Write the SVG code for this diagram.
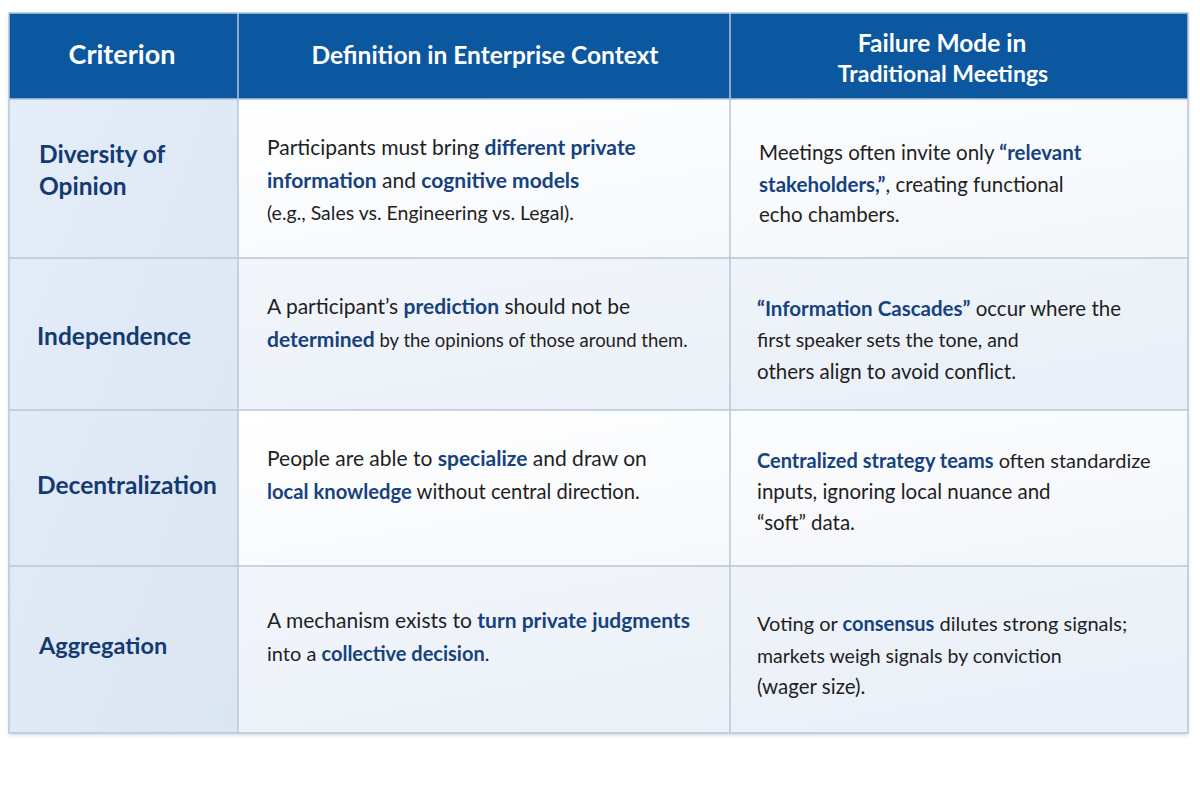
<svg xmlns="http://www.w3.org/2000/svg" width="1200" height="800" viewBox="0 0 1200 800">
<defs>
<linearGradient id="cellg" x1="0" y1="0" x2="1" y2="1">
<stop offset="0" stop-color="#f2f6fb"/>
<stop offset="1" stop-color="#e9eff7"/>
</linearGradient>
<linearGradient id="colg" x1="0" y1="0" x2="1" y2="1">
<stop offset="0" stop-color="#e4edf8"/>
<stop offset="1" stop-color="#dbe6f3"/>
</linearGradient>
<linearGradient id="whiteg" x1="0" y1="0" x2="1" y2="1">
<stop offset="0" stop-color="#ffffff"/>
<stop offset="1" stop-color="#f3f6fa"/>
</linearGradient>
<filter id="sh" x="-5%" y="-5%" width="110%" height="110%">
<feDropShadow dx="0" dy="2" stdDeviation="2" flood-color="#8a9bb0" flood-opacity="0.4"/>
</filter>
</defs>
<style>
.hd{font-family:Lato,"Open Sans",sans-serif;font-weight:bold;font-size:24.5px;fill:#ffffff;text-anchor:middle}
.cr{font-family:Lato,"Open Sans",sans-serif;font-weight:bold;font-size:24.5px;fill:#143a72}
.tx{font-family:Lato,"Open Sans",sans-serif;font-size:21px;fill:#1f1f1f}
.t3{font-size:20.5px}
.sm{font-size:18.5px}
.b{font-weight:bold;fill:#16427e}
.grid{stroke:#b7c7d9;stroke-width:1.5;fill:none}
</style>
<rect width="1200" height="800" fill="#ffffff"/>
<g id="table">
<rect x="9" y="13" width="1179" height="720" fill="#ffffff" filter="url(#sh)"/>
<rect x="9" y="13" width="1179" height="86" fill="#0b57a0"/>
<rect x="9" y="99" width="229" height="634" fill="url(#colg)"/>
<rect x="238" y="99" width="950" height="159" fill="url(#whiteg)"/>
<rect x="238" y="258" width="950" height="152" fill="url(#cellg)"/>
<rect x="238" y="410" width="950" height="156" fill="url(#whiteg)"/>
<rect x="238" y="566" width="950" height="167" fill="url(#cellg)"/>
</g>
<g id="connectors">
<rect class="grid" x="9" y="13" width="1179" height="720"/>
<line class="grid" x1="238" y1="13" x2="238" y2="733"/>
<line class="grid" x1="730" y1="13" x2="730" y2="733"/>
<line class="grid" x1="9" y1="99" x2="1188" y2="99"/>
<line class="grid" x1="9" y1="258" x2="1188" y2="258"/>
<line class="grid" x1="9" y1="410" x2="1188" y2="410"/>
<line class="grid" x1="9" y1="566" x2="1188" y2="566"/>
</g>
<g id="header">
<text class="hd" x="122" y="64" style="font-size:27px">Criterion</text>
<text class="hd" x="485" y="64">Definition in Enterprise Context</text>
<text class="hd" x="942" y="52">Failure Mode in</text>
<text class="hd" x="943" y="82" style="font-size:23px">Traditional Meetings</text>
</g>
<g id="row-diversity">
<text class="cr" x="39" y="163">Diversity of</text>
<text class="cr" x="39" y="195">Opinion</text>
<text class="tx" x="267" y="155">Participants must bring <tspan class="b">different private</tspan></text>
<text class="tx" x="267" y="188"><tspan class="b">information</tspan> and <tspan class="b">cognitive models</tspan></text>
<text class="tx" x="267" y="220" style="font-size:19.5px">(e.g., Sales vs. Engineering vs. Legal).</text>
<text class="tx t3" x="759" y="160">Meetings often invite only <tspan class="b">“relevant</tspan></text>
<text class="tx t3" x="759" y="192"><tspan class="b">stakeholders,”</tspan>, creating functional</text>
<text class="tx t3" x="759" y="222">echo chambers.</text>
</g>
<g id="row-independence">
<text class="cr" x="37" y="345">Independence</text>
<text class="tx" x="267" y="314">A participant’s <tspan class="b">prediction</tspan> should not be</text>
<text class="tx" x="267" y="347"><tspan class="b">determined</tspan><tspan class="sm"> by the opinions of those around them.</tspan></text>
<text class="tx t3" x="757" y="316"><tspan class="b">“Information Cascades”</tspan> occur where the</text>
<text class="tx t3" x="757" y="347" style="font-size:19.5px">first speaker sets the tone, and</text>
<text class="tx t3" x="757" y="379">others align to avoid conflict.</text>
</g>
<g id="row-decentralization">
<text class="cr" x="37" y="494">Decentralization</text>
<text class="tx" x="267" y="466">People are able to <tspan class="b">specialize</tspan> and draw on</text>
<text class="tx" x="267" y="499" style="font-size:20.2px"><tspan class="b">local knowledge</tspan> without central direction.</text>
<text class="tx t3" x="757" y="468" style="font-size:20px"><tspan class="b">Centralized strategy teams</tspan> often standardize</text>
<text class="tx t3" x="757" y="499">inputs, ignoring local nuance and</text>
<text class="tx t3" x="757" y="530">“soft” data.</text>
</g>
<g id="row-aggregation">
<text class="cr" x="39" y="654" style="font-size:23.5px">Aggregation</text>
<text class="tx" x="267" y="628">A mechanism exists to <tspan class="b">turn private judgments</tspan></text>
<text class="tx" x="267" y="661" style="font-size:20px">into a <tspan class="b">collective decision</tspan>.</text>
<text class="tx t3" x="757" y="631" style="font-size:20px">Voting or <tspan class="b">consensus</tspan> dilutes strong signals;</text>
<text class="tx t3" x="757" y="663" style="font-size:19.5px">markets weigh signals by conviction</text>
<text class="tx t3" x="757" y="694">(wager size).</text>
</g>
</svg>
